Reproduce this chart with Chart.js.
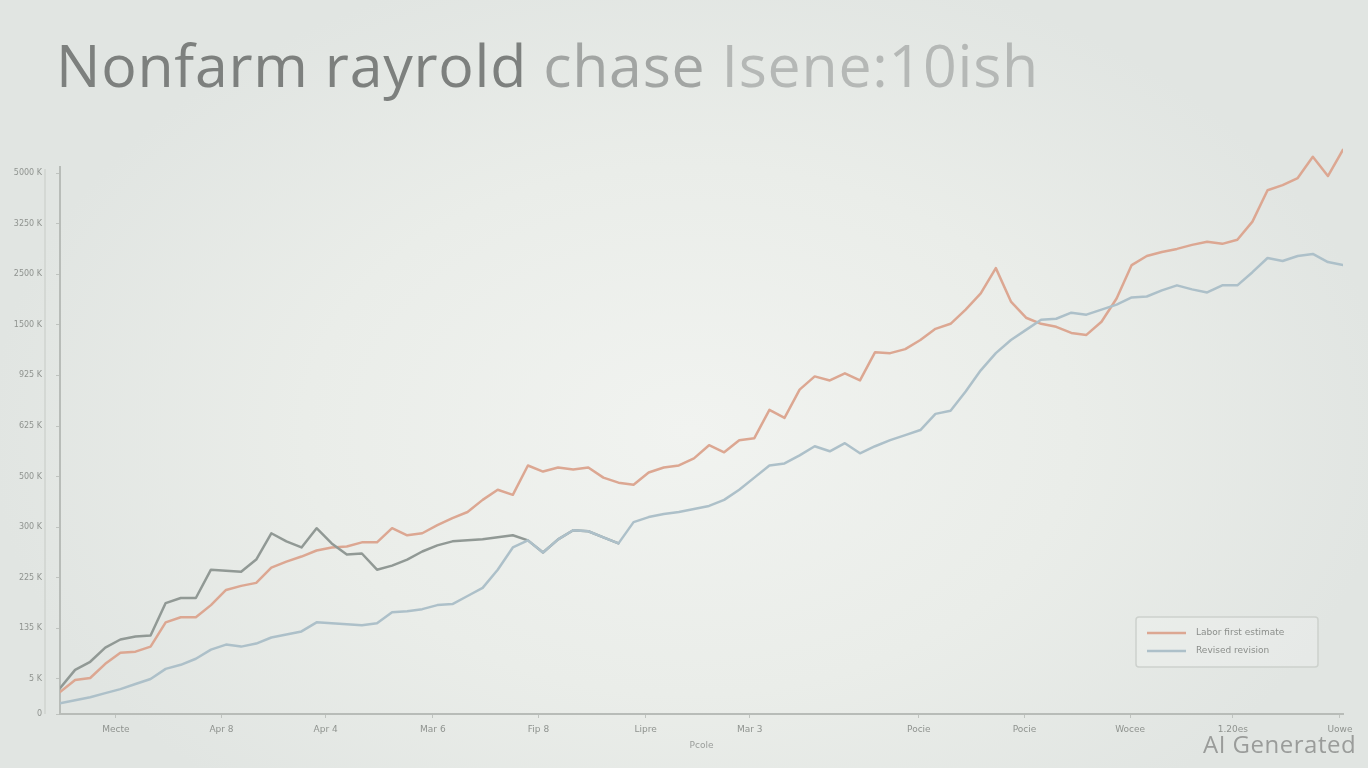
<!DOCTYPE html>
<html>
<head>
<meta charset="utf-8">
<script src="https://cdn.jsdelivr.net/npm/chart.js@4.4.1/dist/chart.umd.min.js"></script>
<style>
    html, body {
        margin: 0;
        padding: 0;
        width: 1368px;
        height: 768px;
        overflow: hidden;
        background: radial-gradient(ellipse 700px 480px at 690px 430px, #f1f3f0 0%, #eaede9 55%, #e1e5e2 100%);
        font-family: 'Open Sans', sans-serif;
    }
    #title {
        position: absolute;
        left: 56px;
        top: 24px;
        margin: 0;
        font-size: 59px;
        font-weight: 400;
        letter-spacing: 0.75px;
        white-space: nowrap;
    }
    #title .a { color: #7d807e; }
    #title .b { color: #a2a5a3; }
    #title .c { color: #b5b8b6; }
    #watermark {
        position: absolute;
        left: 1203px;
        top: 727px;
        font-size: 24px;
        letter-spacing: 0.5px;
        color: #9a9c9a;
    }
    canvas { position: absolute; left: 0; top: 0; }
</style>
</head>
<body>
<h1 id="title"><span class="a">Nonfarm rayrold</span> <span class="b">chase</span> <span class="c">Isene:10ish</span></h1>
<canvas id="lineChart" width="1368" height="768"></canvas>
<div id="watermark">AI Generated</div>
<script>
// مقادیر هر سری
const firstEstimate = [
    3.7, 4.9, 5.1, 6.5, 7.6, 7.7, 8.2, 10.6, 11.1, 11.1,
    12.3, 13.8, 14.2, 14.5, 16.0, 16.6, 17.1, 17.7, 18.0, 18.1,
    18.5, 18.5, 19.9, 19.2, 19.4, 20.2, 20.9, 21.5, 22.7, 23.7,
    23.2, 26.1, 25.5, 25.9, 25.7, 25.9, 24.9, 24.4, 24.2, 25.4,
    25.9, 26.1, 26.8, 28.1, 27.4, 28.6, 28.8, 31.6, 30.8, 33.6,
    34.9, 34.5, 35.2, 34.5, 37.3, 37.2, 37.6, 38.5, 39.6, 40.1,
    41.5, 43.1, 45.6, 42.3, 40.7, 40.1, 39.8, 39.2, 39.0, 40.3,
    42.6, 45.9, 46.8, 47.2, 47.5, 47.9, 48.2, 48.0, 48.4, 50.2,
    53.3, 53.8, 54.5, 56.6, 54.7, 57.3
];
const revised = [
    2.6, 2.9, 3.2, 3.6, 4.0, 4.5, 5.0, 6.0, 6.4, 7.0,
    7.9, 8.4, 8.2, 8.5, 9.1, 9.4, 9.7, 10.6, 10.5, 10.4,
    10.3, 10.5, 11.6, 11.7, 11.9, 12.3, 12.4, 13.2, 14.0, 15.8,
    18.0, 18.7, 17.5, 18.8, 19.7, 19.6, 19.0, 18.4, 20.5, 21.0,
    21.3, 21.5, 21.8, 22.1, 22.7, 23.7, 24.9, 26.1, 26.3, 27.1,
    28.0, 27.5, 28.3, 27.3, 28.0, 28.6, 29.1, 29.6, 31.2, 31.5,
    33.4, 35.5, 37.2, 38.5, 39.5, 40.5, 40.6, 41.2, 41.0, 41.5,
    42.0, 42.7, 42.8, 43.4, 43.9, 43.5, 43.2, 43.9, 43.9, 45.2,
    46.6, 46.3, 46.8, 47.0, 46.2, 45.9
];
const earlyPrint = [
    4.1, 5.9, 6.7, 8.1, 8.9, 9.2, 9.3, 12.5, 13.0, 13.0,
    15.8, 15.7, 15.6, 16.8, 19.4, 18.6, 18.0, 19.9, 18.4, 17.3,
    17.4, 15.8, 16.2, 16.8, 17.6, 18.2, 18.6, 18.7, 18.8, 19.0,
    19.2, 18.7, 17.5, 18.8, 19.7, 19.6, 19.0, 18.4
];

// برچسب‌های محورها
const seriesNames = ['Labor first estimate', 'Revised revision'];
const xTickPos = [3.7, 10.7, 17.6, 24.7, 31.7, 38.8, 45.7, 56.9, 63.9, 70.9, 77.7, 84.8];
const xTickLabels = ['Mecte', 'Apr 8', 'Apr 4', 'Mar 6', 'Fip 8', 'Lipre', 'Mar 3', 'Pocie', 'Pocie', 'Wocee', '1.20es', 'Uowe'];
const yTickPos = [1.54, 5, 10, 15, 20, 25, 30, 35, 40, 45, 50, 55];
const yTickLabels = ['0', '5 K', '135 K', '225 K', '300 K', '500 K', '625 K', '925 K', '1500 K', '2500 K', '3250 K', '5000 K'];

const toPoints = (arr) => arr.map((v, i) => ({ x: i, y: v }));

// خطوط محور و لجند داخل نمودار
const boxLegend = {
    id: 'boxLegend',
    beforeDatasetsDraw(chart) {
        const ctx = chart.ctx;
        const yScale = chart.scales.y;
        const top = yScale.getPixelForValue(55) - 5;
        ctx.save();
        ctx.beginPath();
        ctx.moveTo(45, top + 1);
        ctx.lineTo(45, yScale.bottom);
        ctx.strokeStyle = '#cfd3cf';
        ctx.lineWidth = 1.5;
        ctx.stroke();
        ctx.beginPath();
        ctx.moveTo(60, top - 2);
        ctx.lineTo(60, yScale.bottom + 1);
        ctx.strokeStyle = '#b8bcb8';
        ctx.lineWidth = 2;
        ctx.stroke();
        ctx.restore();
    },
    afterDraw(chart) {
        const ctx = chart.ctx;
        const x = 1136, y = 617, w = 182, h = 50;
        ctx.save();
        ctx.beginPath();
        ctx.roundRect(x, y, w, h, 3);
        ctx.fillStyle = 'rgba(255,255,255,0.18)';
        ctx.fill();
        ctx.strokeStyle = '#cdd1cd';
        ctx.lineWidth = 1.5;
        ctx.stroke();
        const items = chart.data.datasets
            .filter(d => d.legendOrder !== undefined)
            .sort((a, b) => a.legendOrder - b.legendOrder);
        items.forEach((d, i) => {
            const ly = y + 16 + i * 18;
            ctx.beginPath();
            ctx.moveTo(x + 11, ly);
            ctx.lineTo(x + 50, ly);
            ctx.strokeStyle = d.borderColor;
            ctx.lineWidth = 2.5;
            ctx.stroke();
            ctx.fillStyle = '#8b8e8b';
            ctx.font = '9px "DejaVu Sans"';
            ctx.textBaseline = 'middle';
            ctx.fillText(d.label, x + 60, ly);
        });
        ctx.restore();
    }
};

let lineCtx = document.getElementById('lineChart');
if (lineCtx) {
    lineCtx = lineCtx.getContext('2d');

    new Chart(lineCtx, {
        type: 'line',
        data: {
            datasets: [{
                label: seriesNames[1],
                data: toPoints(revised),
                borderColor: '#adc0c9',
                borderWidth: 2.5,
                legendOrder: 1
            }, {
                label: 'early',
                data: toPoints(earlyPrint),
                borderColor: '#919995',
                borderWidth: 2.5
            }, {
                label: seriesNames[0],
                data: toPoints(firstEstimate),
                borderColor: '#dca792',
                borderWidth: 2.5,
                legendOrder: 0
            }]
        },
        options: {
            responsive: false,
            animation: false,
            layout: {
                padding: { top: 138, right: 25, left: 0, bottom: 17 }
            },
            elements: {
                point: { radius: 0 },
                line: { tension: 0, borderJoinStyle: 'round', borderCapStyle: 'round' }
            },
            scales: {
                x: {
                    type: 'linear',
                    min: 0,
                    max: 85,
                    afterFit: (s) => { s.height = 37; },
                    afterBuildTicks: (s) => { s.ticks = xTickPos.map(v => ({ value: v })); },
                    grid: { drawOnChartArea: false, drawTicks: true, tickLength: 4, color: '#bfc3bf' },
                    border: { color: '#b8bcb8', width: 2 },
                    ticks: {
                        autoSkip: false,
                        maxRotation: 0,
                        padding: 6,
                        color: '#8f938f',
                        font: { size: 9, family: 'DejaVu Sans' },
                        callback: (v, i) => xTickLabels[i]
                    },
                    title: {
                        display: true,
                        text: 'Pcole',
                        color: '#9a9d9a',
                        padding: { top: 0, bottom: 0 },
                        font: { size: 9, family: 'DejaVu Sans' }
                    }
                },
                y: {
                    min: 1.54,
                    max: 58.46,
                    afterFit: (s) => { s.width = 60; },
                    afterBuildTicks: (s) => { s.ticks = yTickPos.map(v => ({ value: v })); },
                    grid: { drawOnChartArea: false, drawTicks: true, tickLength: 4, color: '#bfc3bf' },
                    border: { display: false },
                    ticks: {
                        padding: 14,
                        color: '#8f938f',
                        font: { size: 8, family: 'DejaVu Sans' },
                        callback: (v, i) => yTickLabels[i]
                    }
                }
            },
            plugins: {
                legend: { display: false },
                tooltip: { enabled: false }
            }
        },
        plugins: [boxLegend]
    });
}
</script>
</body>
</html>
